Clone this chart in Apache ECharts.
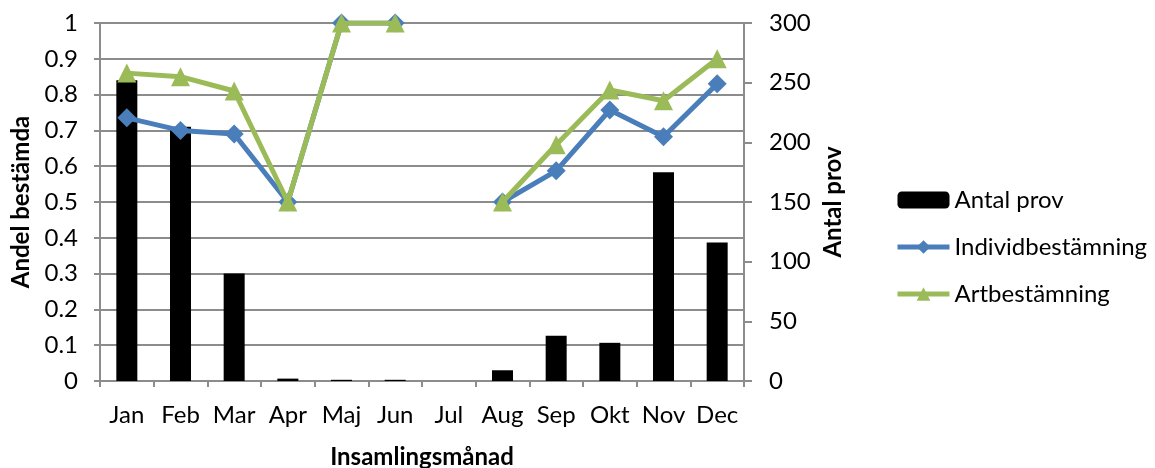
<!DOCTYPE html>
<html>
<head>
<meta charset="utf-8">
<script src="https://cdn.jsdelivr.net/npm/echarts@6/dist/echarts.min.js"></script>
<style>
html,body{margin:0;padding:0;background:#fff;}
#chart{width:1155px;height:468px;}
</style>
</head>
<body>
<div id="chart"></div>
<script>
const categories = ['Jan','Feb','Mar','Apr','Maj','Jun','Jul','Aug','Sep','Okt','Nov','Dec'];
const antalProv = [252, 213, 90, 2, 1, 1, 0, 9, 38, 32, 175, 116];
const individbestamning = [0.735, 0.70, 0.69, 0.5, 1, 1, null, 0.5, 0.587, 0.757, 0.682, 0.83];
const artbestamning = [0.86, 0.85, 0.81, 0.5, 1, 1, null, 0.5, 0.66, 0.813, 0.783, 0.90];

const FONT = 'Lato, "Liberation Sans", sans-serif';
const GRID = '#8c8c8c';
const LBL = 24;
const TTL = 24;

const chart = echarts.init(document.getElementById('chart'), null, {renderer: 'canvas'});
chart.setOption({
  animation: false,
  backgroundColor: '#ffffff',
  textStyle: {fontFamily: FONT, color: '#000'},
  grid: {left: 100, right: 411, top: 23, bottom: 87, containLabel: false, outerBoundsMode: 'none'},
  legend: {
    orient: 'vertical',
    left: 895,
    top: 188,
    padding: 0,
    itemWidth: 52,
    itemHeight: 17,
    itemGap: 23,
    lineStyle: {width: 5},
    textStyle: {fontFamily: FONT, fontSize: LBL, color: '#000'},
    data: ['Antal prov', 'Individbestämning', 'Artbestämning']
  },
  xAxis: {
    type: 'category',
    data: categories,
    boundaryGap: true,
    name: 'Insamlingsmånad',
    nameLocation: 'middle',
    nameGap: 64,
    nameTextStyle: {fontFamily: FONT, fontSize: TTL, fontWeight: 'bold', color: '#000'},
    axisLine: {lineStyle: {color: GRID, width: 2}},
    axisTick: {show: true, alignWithLabel: false, interval: 0, length: 6, lineStyle: {color: GRID, width: 2}},
    axisLabel: {fontFamily: FONT, fontSize: LBL, color: '#000', margin: 22, interval: 0}
  },
  yAxis: [
    {
      type: 'value',
      position: 'left',
      min: 0, max: 1, interval: 0.1,
      name: 'Andel bestämda',
      nameLocation: 'middle',
      nameGap: 67,
      nameTextStyle: {fontFamily: FONT, fontSize: TTL, fontWeight: 'bold', color: '#000'},
      axisLine: {show: true, lineStyle: {color: GRID, width: 2}},
      axisTick: {show: true, length: 6, lineStyle: {color: GRID, width: 2}},
      axisLabel: {fontFamily: FONT, fontSize: LBL, color: '#000', margin: 22},
      splitLine: {show: true, lineStyle: {color: GRID, width: 2}}
    },
    {
      type: 'value',
      position: 'right',
      min: 0, max: 300, interval: 50,
      name: 'Antal prov',
      nameLocation: 'middle',
      nameGap: 77,
      nameTextStyle: {fontFamily: FONT, fontSize: TTL, fontWeight: 'bold', color: '#000'},
      axisLine: {show: true, lineStyle: {color: GRID, width: 2}},
      axisTick: {show: true, length: 8, lineStyle: {color: GRID, width: 2}},
      axisLabel: {fontFamily: FONT, fontSize: LBL, color: '#000', margin: 25},
      splitLine: {show: false}
    }
  ],
  series: [
    {
      name: 'Antal prov',
      type: 'bar',
      yAxisIndex: 1,
      data: antalProv,
      barWidth: 21,
      itemStyle: {color: '#000000'},
      z: 1
    },
    {
      name: 'Individbestämning',
      type: 'line',
      yAxisIndex: 0,
      data: individbestamning,
      connectNulls: false,
      symbol: 'diamond',
      symbolSize: 19,
      lineStyle: {color: '#4A7EBB', width: 5},
      itemStyle: {color: '#4A7EBB'},
      z: 3
    },
    {
      name: 'Artbestämning',
      type: 'line',
      yAxisIndex: 0,
      data: artbestamning,
      connectNulls: false,
      symbol: 'triangle',
      symbolSize: 19,
      lineStyle: {color: '#9BBB59', width: 5},
      itemStyle: {color: '#9BBB59'},
      z: 4
    }
  ]
});
</script>
</body>
</html>
